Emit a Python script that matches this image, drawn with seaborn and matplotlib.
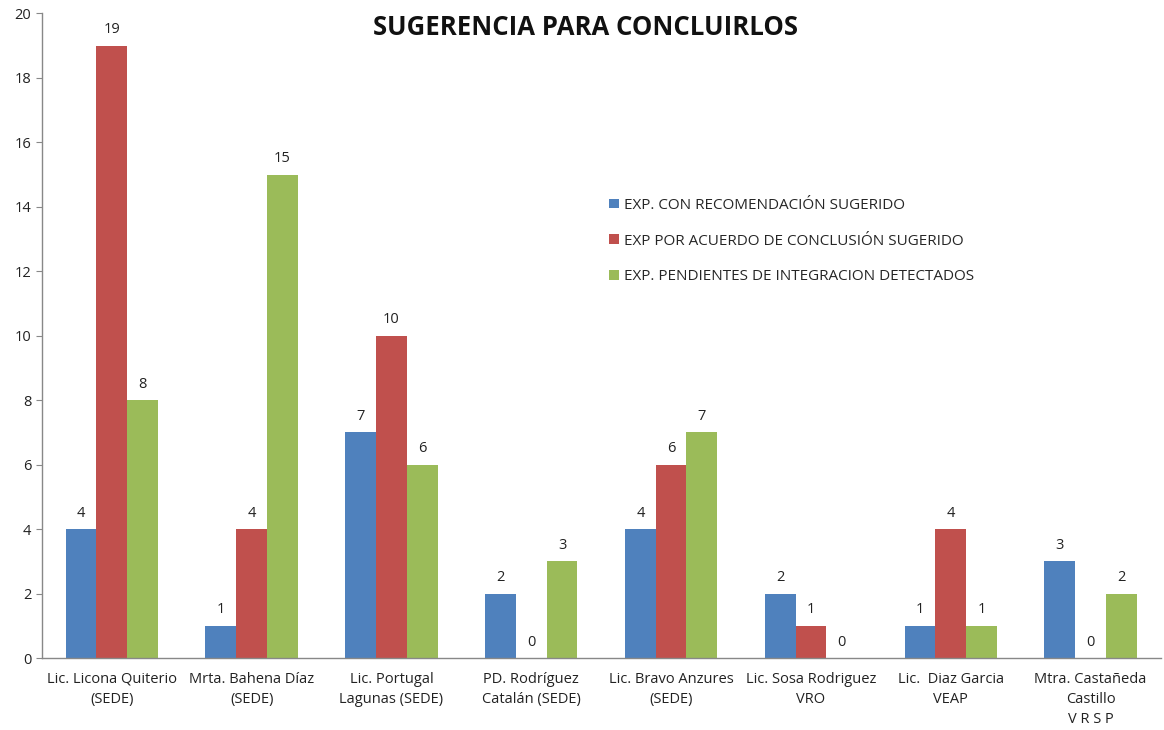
import matplotlib
matplotlib.use("Agg")
import matplotlib.pyplot as plt
import seaborn as sns
import pandas as pd
import numpy as np

personas = ["Lic. Licona Quiterio\n(SEDE)", "Mrta. Bahena Díaz\n(SEDE)",
            "Lic. Portugal\nLagunas (SEDE)", "PD. Rodríguez\nCatalán (SEDE)",
            "Lic. Bravo Anzures\n(SEDE)", "Lic. Sosa Rodriguez\nVRO",
            "Lic.  Diaz Garcia\nVEAP", "Mtra. Castañeda\nCastillo\nV R S P"]
series = ["EXP. CON RECOMENDACIÓN SUGERIDO",
          "EXP POR ACUERDO DE CONCLUSIÓN SUGERIDO",
          "EXP. PENDIENTES DE INTEGRACION DETECTADOS"]
recomendacion = [4, 1, 7, 2, 4, 2, 1, 3]
acuerdo = [19, 4, 10, 0, 6, 1, 4, 0]
pendientes = [8, 15, 6, 3, 7, 0, 1, 2]
colores = ["#4F81BD", "#C0504D", "#9BBB59"]

rows = []
for s, vals in zip(series, [recomendacion, acuerdo, pendientes]):
    for p, v in zip(personas, vals):
        rows.append({"persona": p, "serie": s, "valor": v})
df = pd.DataFrame(rows)

sns.set_style("white")
plt.rcParams["font.family"] = ["Open Sans", "DejaVu Sans"]

fig = plt.figure(figsize=(11.64, 7.30), dpi=100)
ax = fig.add_axes([0.036, 0.0986, 0.961, 0.883])

sns.barplot(data=df, x="persona", y="valor", hue="serie", palette=colores,
            width=0.66, saturation=1, ax=ax, errorbar=None, linewidth=0)

for cont in ax.containers:
    ax.bar_label(cont, padding=6, fontsize=10.5, color="#222222")

ax.set_ylim(0, 20)
ax.set_yticks(np.arange(0, 21, 2))
ax.set_xlim(-0.5, len(personas) - 0.5)
ax.set_xlabel("")
ax.set_ylabel("")
ax.set_xticks(np.arange(len(personas)))
ax.set_xticklabels(personas, fontsize=10.5, color="#222222", linespacing=1.45)
ax.set_xticks(np.arange(-0.5, len(personas)), minor=True)
ax.tick_params(axis="x", which="major", length=0, pad=10)
ax.tick_params(axis="x", which="minor", length=5, color="#888888", direction="out")
ax.tick_params(axis="y", length=4, color="#888888", labelsize=10.5, labelcolor="#222222", left=True)

for side in ["top", "right"]:
    ax.spines[side].set_visible(False)
for side in ["left", "bottom"]:
    ax.spines[side].set_color("#888888")
    ax.spines[side].set_linewidth(1)

leg = ax.legend(loc="upper left", bbox_to_anchor=(0.495, 0.735), frameon=False,
                fontsize=11, handlelength=0.6, handleheight=0.6,
                labelspacing=1.35, handletextpad=0.35)

fig.text(0.503, 0.962, "SUGERENCIA PARA CONCLUIRLOS", ha="center", va="center",
         fontsize=18.5, fontweight="bold", color="#111111")

fig.savefig("out.png", dpi=100)
